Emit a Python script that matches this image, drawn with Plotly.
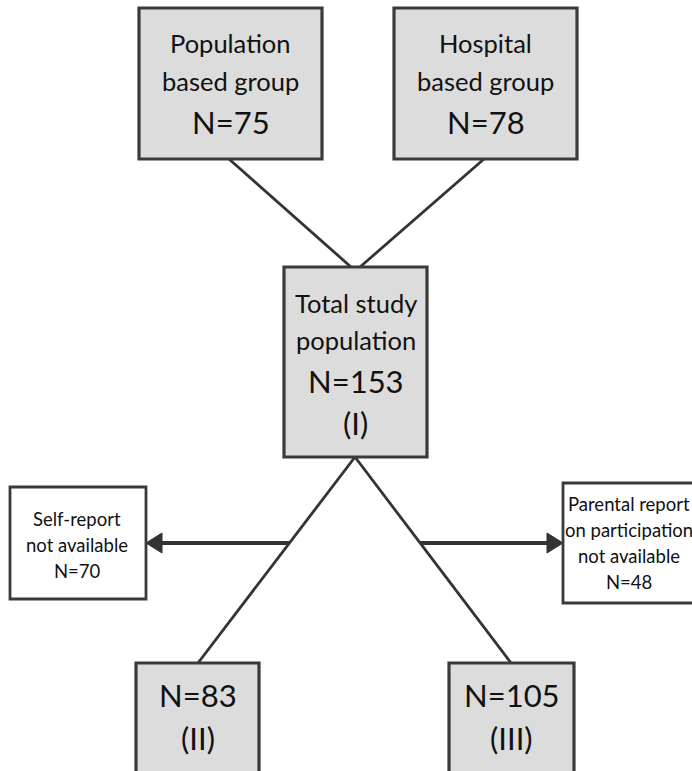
import plotly.graph_objects as go

# ---- data (content of the flowchart) ----
node_ids = ["pop", "hosp", "total", "g2", "g3", "self", "parent"]
node_text = [
    ["Population", "based group"],
    ["Hospital", "based group"],
    ["Total study", "population"],
    [],
    [],
    ["Self-report", "not available"],
    ["Parental report", "on participation", "not available"],
]
node_n = [75, 78, 153, 83, 105, 70, 48]
node_roman = ["", "", "(I)", "(II)", "(III)", "", ""]

# ---- layout (pixel geometry, y downward) ----
W, H = 692, 771
geom = {
    "pop":    dict(x0=139, x1=322, y0=8,   y1=159, lines=[43, 81, 122], fill="#dcdcdc"),
    "hosp":   dict(x0=394, x1=577, y0=8,   y1=159, lines=[43, 81, 122], fill="#dcdcdc"),
    "total":  dict(x0=284, x1=427, y0=267, y1=457, lines=[303, 340, 381, 423], fill="#dcdcdc"),
    "g2":     dict(x0=136, x1=259, y0=663, y1=800, lines=[695, 738], fill="#dcdcdc"),
    "g3":     dict(x0=449, x1=574, y0=663, y1=800, lines=[695, 738], fill="#dcdcdc"),
    "self":   dict(x0=10,  x1=146, y0=487, y1=599, lines=[519, 545, 571], fill="#ffffff", cx=77),
    "parent": dict(x0=563, x1=705, y0=483, y1=603, lines=[504, 530, 556, 582], fill="#ffffff", cx=628.5),
}
connectors = [((229, 159), (351, 267)), ((484, 159), (360, 267)),
              ((355, 457), (198, 663)), ((355, 457), (511, 663))]
arrows = [((289, 543), (146, 543)), ((420, 543), (563, 543))]

LINE = "#333333"
TXT = "#111111"
FONT = "Lato, Open Sans, sans-serif"

shapes = []
annotations = []

for (x0, y0), (x1, y1) in connectors:
    shapes.append(dict(type="line", x0=x0, y0=y0, x1=x1, y1=y1, xref="x", yref="y",
                       line=dict(color=LINE, width=2.8), layer="below"))

for (x0, y0), (x1, y1) in arrows:
    d = 1 if x1 > x0 else -1
    hl, hw = 16, 10
    shapes.append(dict(type="line", x0=x0, y0=y0, x1=x1 - d * hl, y1=y1, xref="x", yref="y",
                       line=dict(color=LINE, width=4)))
    shapes.append(dict(type="path",
                       path=f"M {x1},{y1} L {x1 - d*hl},{y1 - hw} L {x1 - d*hl},{y1 + hw} Z",
                       xref="x", yref="y", fillcolor=LINE, line=dict(color=LINE, width=1)))

for nid, txt, n, rom in zip(node_ids, node_text, node_n, node_roman):
    g = geom[nid]
    small = g["fill"] == "#ffffff"
    shapes.append(dict(type="rect", x0=g["x0"], x1=g["x1"], y0=g["y0"], y1=g["y1"],
                       xref="x", yref="y", fillcolor=g["fill"],
                       line=dict(color="#3a3a3a", width=2.8 if small else 3.2)))
    cx = g.get("cx", (g["x0"] + g["x1"]) / 2)
    items = [(t, 18.5 if small else 25.5) for t in txt]
    items.append((f"N={n}", 18.5 if small else 31))
    if rom:
        items.append((rom, 31))
    for (t, sz), y in zip(items, g["lines"]):
        annotations.append(dict(x=cx, y=y, xref="x", yref="y", text=t, showarrow=False,
                                font=dict(family=FONT, size=sz, color=TXT),
                                xanchor="center", yanchor="middle"))

fig = go.Figure()
fig.update_layout(
    width=W, height=H, margin=dict(l=0, r=0, t=0, b=0),
    paper_bgcolor="white", plot_bgcolor="white",
    xaxis=dict(range=[0, W], visible=False, fixedrange=True),
    yaxis=dict(range=[H, 0], visible=False, fixedrange=True),
    shapes=shapes, annotations=annotations, showlegend=False,
)
fig.write_html("out.html", config={"displayModeBar": False},
               post_script="document.body.style.margin='0';document.body.style.overflow='hidden';")
